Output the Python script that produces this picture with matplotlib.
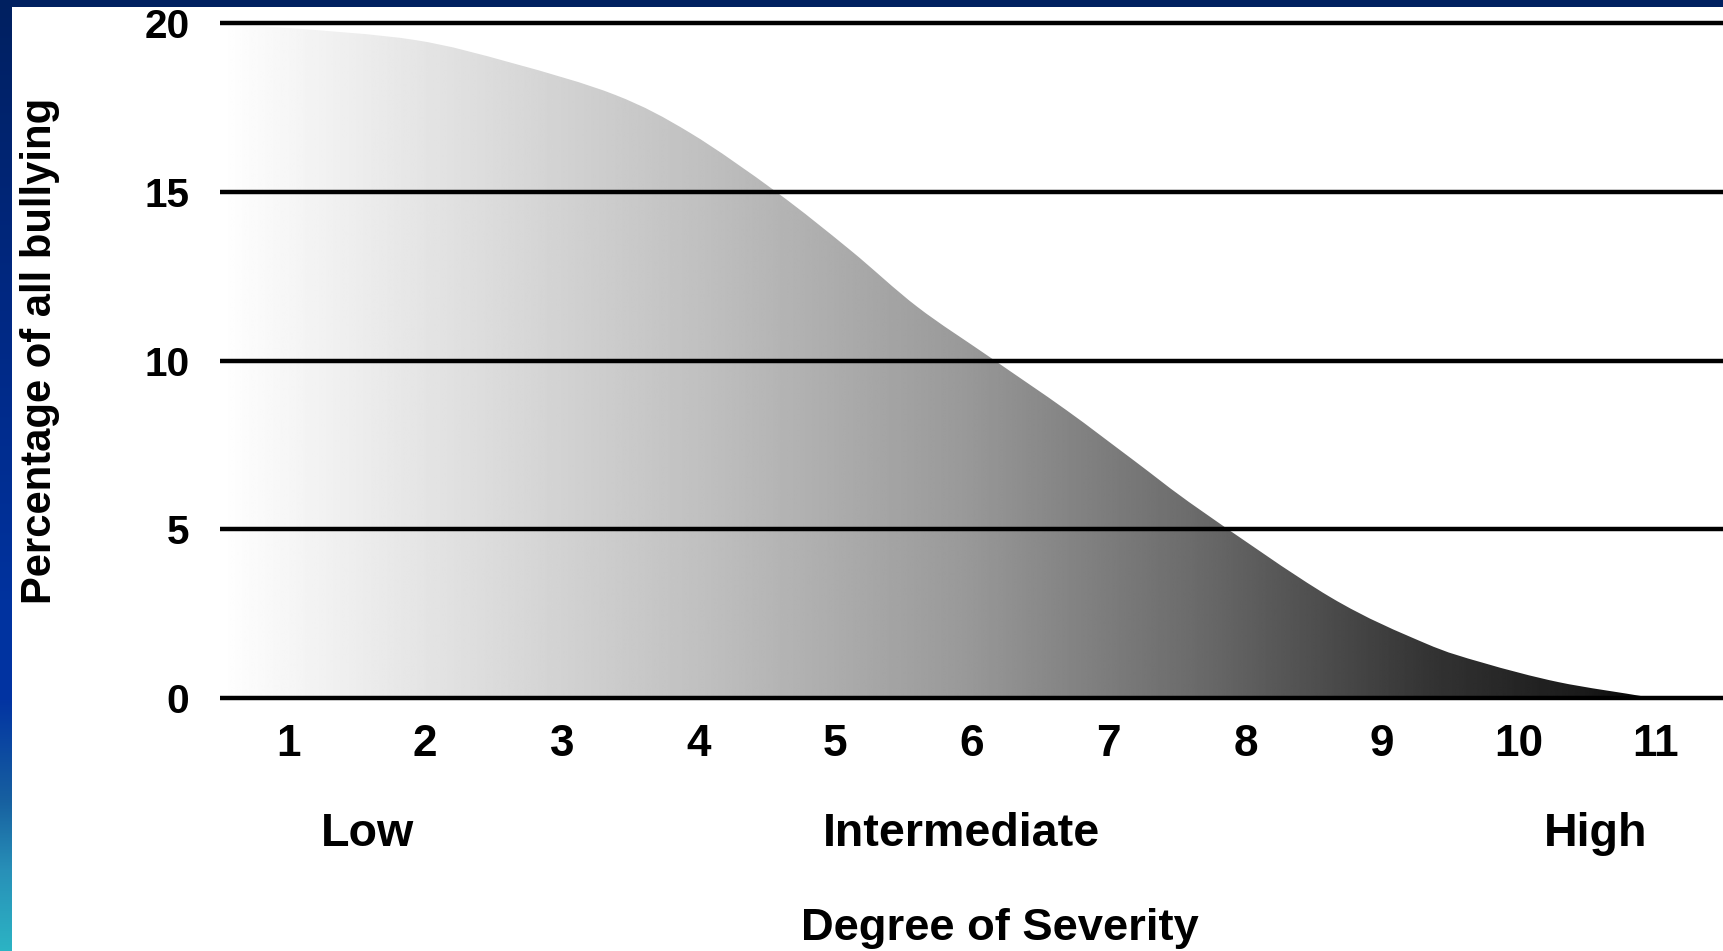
import numpy as np
import matplotlib
matplotlib.use('Agg')
import matplotlib.pyplot as plt
from matplotlib.patches import PathPatch
from matplotlib.path import Path
from matplotlib.transforms import blended_transform_factory

plt.rcParams['font.family'] = ['Liberation Sans', 'DejaVu Sans']
plt.rcParams['font.weight'] = 'bold'

# severity curve (x = degree of severity, y = percent)
sev_x = [0.5, 1.0, 1.92, 2.64, 3.39, 3.94, 4.57, 5.11, 5.60, 6.13,
         6.69, 7.18, 7.67, 8.62, 9.31, 9.74, 10.29, 10.89, 10.92]
sev_y = [19.94, 19.85, 19.50, 18.81, 17.87, 16.74, 14.99, 13.27, 11.59, 10.10,
         8.53, 7.05, 5.57, 2.99, 1.63, 1.04, 0.47, 0.06, 0.0]

x_ticks = list(range(1, 12))
y_ticks = [0, 5, 10, 15, 20]
group_names = ['Low', 'Intermediate', 'High']
group_x = [1.58, 5.92, 10.56]

k = 0.86  # reference face is a narrow bold; shrink a bit to keep widths close

W, H = 1724, 951
fig = plt.figure(figsize=(W / 100, H / 100), dpi=100)
fig.patch.set_facecolor('white')

# slide edge: left strip with vertical blue gradient, top navy band
stops_y = [0, 300, 620, 700, 800, 870, 951]
stops_c = np.array([(0, 32, 96), (0, 40, 130), (0, 51, 160), (2, 52, 162),
                    (23, 96, 160), (40, 144, 184), (44, 180, 196)]) / 255
rows = np.arange(H)
strip = np.stack([np.interp(rows, stops_y, stops_c[:, j]) for j in range(3)], axis=1)
bax = fig.add_axes([0, 0, 12 / W, 1])
bax.imshow(strip[:, None, :], aspect='auto', extent=[0, 1, 0, 1])
bax.axis('off')
tax = fig.add_axes([0, 1 - 7 / H, 1, 7 / H])
tax.set_facecolor('#002060')
tax.set_xticks([])
tax.set_yticks([])
for s in tax.spines.values():
    s.set_visible(False)

ax = fig.add_axes([220 / W, 1 - 698 / H, 1 - 220 / W, 675 / H])
ax.set_facecolor('none')

# smooth outline through the read points (Catmull-Rom as cubic Bezier)
pts = np.column_stack([sev_x, sev_y])
verts = [tuple(pts[0])]
codes = [Path.MOVETO]
for i in range(len(pts) - 1):
    p0 = pts[max(i - 1, 0)]
    p1, p2 = pts[i], pts[i + 1]
    p3 = pts[min(i + 2, len(pts) - 1)]
    verts += [tuple(p1 + (p2 - p0) / 6), tuple(p2 - (p3 - p1) / 6), tuple(p2)]
    codes += [Path.CURVE4] * 3
verts += [(sev_x[0], 0), (sev_x[0], sev_y[0])]
codes += [Path.LINETO, Path.CLOSEPOLY]

# gradient fill under the curve, white on the left to black on the right
xs = np.linspace(0.5, sev_x[-1], 800)
px = 220 + (xs - 0.5) * 136.73
gray = np.interp(px, [220, 410, 700, 965, 1200, 1434, 1587, 1640],
                 [255, 230, 192, 153, 106, 51, 26, 8]) / 255
im = ax.imshow(np.tile(gray, (2, 1)), cmap='gray', vmin=0, vmax=1,
               extent=[0.5, sev_x[-1], 0, 20], aspect='auto',
               interpolation='bilinear', zorder=1)
patch = PathPatch(Path(verts, codes), transform=ax.transData, fc='none', ec='none')
ax.add_patch(patch)
im.set_clip_path(patch)

ax.hlines(y_ticks, 0.5, 11.5, colors='black', lw=3.2, zorder=3, clip_on=False)

ax.set_xlim(0.5, 11.5)
ax.set_ylim(0, 20)
for s in ax.spines.values():
    s.set_visible(False)

ax.set_yticks(y_ticks)
ax.set_xticks(x_ticks)
ax.tick_params(axis='y', length=0, pad=22, labelsize=34 * k)
ax.tick_params(axis='x', length=0, pad=19, labelsize=37 * k)

tr = blended_transform_factory(ax.transData, ax.transAxes)
for name, gx in zip(group_names, group_x):
    ax.text(gx, -0.2193, name, transform=tr, ha='center', va='baseline',
            fontsize=39 * k, fontweight='bold')

ax.set_xlabel('Degree of Severity', fontsize=38 * k, fontweight='bold', va='baseline')
ax.xaxis.set_label_coords(0.5186, -0.3585)
ax.set_ylabel('Percentage of all bullying', fontsize=35 * k, fontweight='bold')
ax.yaxis.set_label_coords(-0.1064, 0.514)

fig.savefig('out.png', dpi=100, facecolor='white')
